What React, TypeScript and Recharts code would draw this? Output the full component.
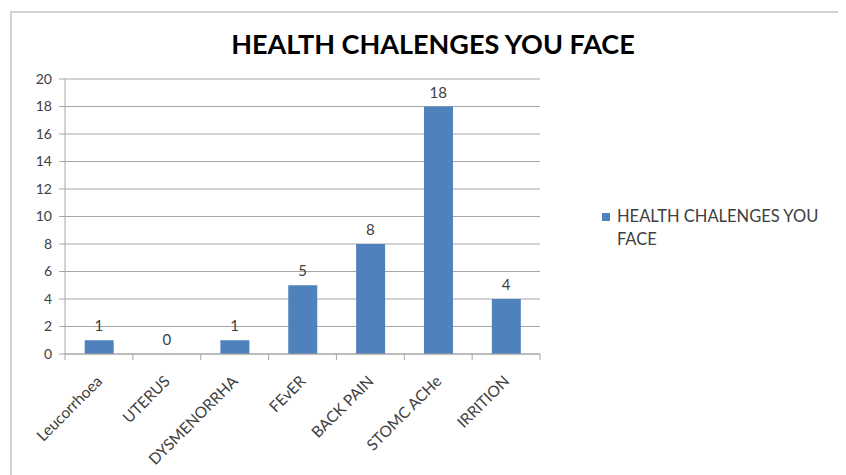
import { ComposedChart, Bar, Line, XAxis, YAxis, CartesianGrid, LabelList } from 'recharts';

const categories = ['Leucorrhoea', 'UTERUS', 'DYSMENORRHA', 'FEvER', 'BACK PAIN', 'STOMC ACHe', 'IRRITION'];
const counts = [1, 0, 1, 5, 8, 18, 4];
const yTicks = [0, 2, 4, 6, 8, 10, 12, 14, 16, 18, 20];

const seriesName = 'HEALTH CHALENGES YOU FACE';
const chartTitle = 'HEALTH CHALENGES YOU FACE';

const data = categories.map((name, i) => ({ name, value: counts[i] }));

const BAR = '#4f81bd';
const TEXT = '#404040';
const GRID = '#a6a6a6';
const FONT = 'Lato, "Open Sans", sans-serif';

const BAND = 475 / categories.length;

// category label rotated, plus tick marks on the category boundaries
const XTick = ({ x, y, payload, index }: any) => {
  const left = x - BAND / 2;
  const right = x + BAND / 2;
  const ax = x;
  const ay = y + 16;
  return (
    <g>
      {index === 0 && <line x1={left} y1={y - 8} x2={left} y2={y - 2} stroke={GRID} />}
      <line x1={right} y1={y - 8} x2={right} y2={y - 2} stroke={GRID} />
      <text
        x={ax}
        y={ay}
        textAnchor="end"
        transform={`rotate(-45, ${ax}, ${ay})`}
        fontSize={15.5}
        fill={TEXT}
        fontFamily={FONT}
        dominantBaseline="central"
      >
        {payload.value}
      </text>
    </g>
  );
};

export default function App() {
  return (
    <div style={{ position: 'relative', width: 838, height: 467, background: '#fff', fontFamily: FONT }}>
      <div
        style={{
          position: 'absolute',
          left: 2,
          top: 3,
          right: 0,
          bottom: 0,
          borderLeft: '2px solid #d4d4d4',
          borderTop: '2px solid #d4d4d4',
        }}
      />
      <div
        style={{
          position: 'absolute',
          left: 425,
          top: 19,
          transform: 'translateX(-50%)',
          whiteSpace: 'nowrap',
          fontWeight: 700,
          fontSize: 27,
          color: '#000',
        }}
      >
        {chartTitle}
      </div>
      <ComposedChart
        width={838}
        height={467}
        data={data}
        margin={{ top: 71, right: 306, left: 0, bottom: 21 }}
        barCategoryGap="29%"
      >
        <CartesianGrid vertical={false} stroke={GRID} />
        <XAxis
          dataKey="name"
          interval={0}
          height={100}
          stroke={GRID}
          tickLine={false}
          tick={<XTick />}
        />
        <YAxis
          domain={[0, 20]}
          ticks={yTicks}
          width={57}
          stroke={GRID}
          tickSize={6}
          tickMargin={7}
          tick={{ fontSize: 14, fill: TEXT, fontFamily: FONT }}
        />
        <Bar dataKey="value" fill={BAR} isAnimationActive={false} />
        {/* invisible line only carries the value labels, so the 0 gets one too */}
        <Line dataKey="value" stroke="none" dot={false} activeDot={false} isAnimationActive={false}>
          <LabelList dataKey="value" position="top" offset={9} fontSize={15} fill={TEXT} fontFamily={FONT} />
        </Line>
      </ComposedChart>
      <div
        style={{
          position: 'absolute',
          left: 594,
          top: 197,
          width: 240,
          display: 'flex',
          alignItems: 'flex-start',
          fontSize: 16.5,
          lineHeight: '23px',
          color: TEXT,
        }}
      >
        <span style={{ width: 8, height: 8, background: BAR, marginTop: 8, marginRight: 7, flexShrink: 0 }} />
        <span>{seriesName}</span>
      </div>
    </div>
  );
}
